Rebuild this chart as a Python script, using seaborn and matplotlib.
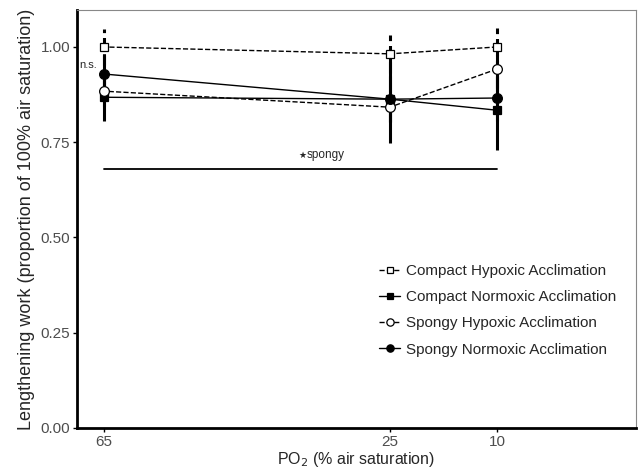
import matplotlib
matplotlib.use("Agg")
import matplotlib.pyplot as plt
import seaborn as sns
import pandas as pd

# values
po2 = [65, 25, 10]
series = ["Compact Hypoxic Acclimation", "Compact Normoxic Acclimation",
          "Spongy Hypoxic Acclimation", "Spongy Normoxic Acclimation"]
compact_hyp = [1.00, 0.982, 1.00]
compact_hyp_err = [0.047, 0.05, 0.05]
compact_norm = [0.868, 0.863, 0.834]
compact_norm_err = [0.063, 0.06, 0.105]
spongy_hyp = [0.884, 0.842, 0.942]
spongy_hyp_err = [0.04, 0.04, 0.05]
spongy_norm = [0.929, 0.863, 0.866]
spongy_norm_err = [0.05, 0.115, 0.06]

rows = []
for name, vals, errs in zip(series,
                            [compact_hyp, compact_norm, spongy_hyp, spongy_norm],
                            [compact_hyp_err, compact_norm_err, spongy_hyp_err, spongy_norm_err]):
    for x, v, e in zip(po2, vals, errs):
        rows.append({"po2": x, "work": v, "err": e, "group": name})
data = pd.DataFrame(rows)

sns.set_style("white")
plt.rcParams['font.family'] = ['Liberation Sans', 'DejaVu Sans']

fig = plt.figure(figsize=(6.4, 4.7), dpi=100)
ax = fig.add_axes([0.1203, 0.0894, 0.8734, 0.8893])

styles = {
    "Compact Hypoxic Acclimation": dict(marker="s", mfc="white", ls="--", ms=6),
    "Compact Normoxic Acclimation": dict(marker="s", mfc="black", ls="-", ms=6),
    "Spongy Hypoxic Acclimation": dict(marker="o", mfc="white", ls="--", ms=7),
    "Spongy Normoxic Acclimation": dict(marker="o", mfc="black", ls="-", ms=7),
}

# error bars first, then lines and markers on top
for name in series:
    d = data[data.group == name]
    st = styles[name]
    eb = ax.errorbar(d.po2, d.work, yerr=d.err, fmt="none", ecolor="black",
                     elinewidth=2.2, capsize=0, zorder=2)
    eb[2][0].set_linestyle(st["ls"])

for name in series:
    d = data[data.group == name]
    st = styles[name]
    sns.lineplot(data=d, x="po2", y="work", ax=ax, color="black", lw=1.0,
                 linestyle=st["ls"], marker=st["marker"], markersize=st["ms"],
                 markerfacecolor=st["mfc"], markeredgecolor="black",
                 markeredgewidth=0.9, label=name, zorder=3, errorbar=None)

# significance bar
ax.plot([65, 10], [0.679, 0.679], color="black", lw=1.3)
ax.text(36.7, 0.703, "\u2605", ha="right", va="bottom", fontsize=6.5, family="DejaVu Sans")
ax.text(36.7, 0.70, "spongy", ha="left", va="bottom", fontsize=8.5)
ax.text(66.0, 0.953, "n.s.", ha="right", va="center", fontsize=8)

ax.set_xlim(68.78, -9.45)
ax.set_ylim(0, 1.097)
ax.set_xticks(po2)
ax.set_xticklabels([str(v) for v in po2])
ax.set_yticks([0, 0.25, 0.5, 0.75, 1.0])
ax.set_yticklabels(["0.00", "0.25", "0.50", "0.75", "1.00"])
ax.tick_params(axis="both", colors="black", labelcolor="#4d4d4d", labelsize=11,
               length=3, width=1, direction="out", left=True, bottom=True, pad=2)

ax.set_xlabel("PO$_2$ (% air saturation)", fontsize=11.5, labelpad=1)
ax.set_ylabel("Lengthening work (proportion of 100% air saturation)", fontsize=13, labelpad=4)

for side in ["top", "right"]:
    ax.spines[side].set_color("#888888")
    ax.spines[side].set_linewidth(0.8)
for side in ["left", "bottom"]:
    ax.spines[side].set_color("black")
    ax.spines[side].set_linewidth(2)

leg = ax.legend(loc="lower right", bbox_to_anchor=(0.99, 0.138), frameon=False,
                fontsize=11, handlelength=1.4, handletextpad=0.4, labelspacing=0.8,
                markerscale=0.75)

fig.savefig("out.png", dpi=100)
